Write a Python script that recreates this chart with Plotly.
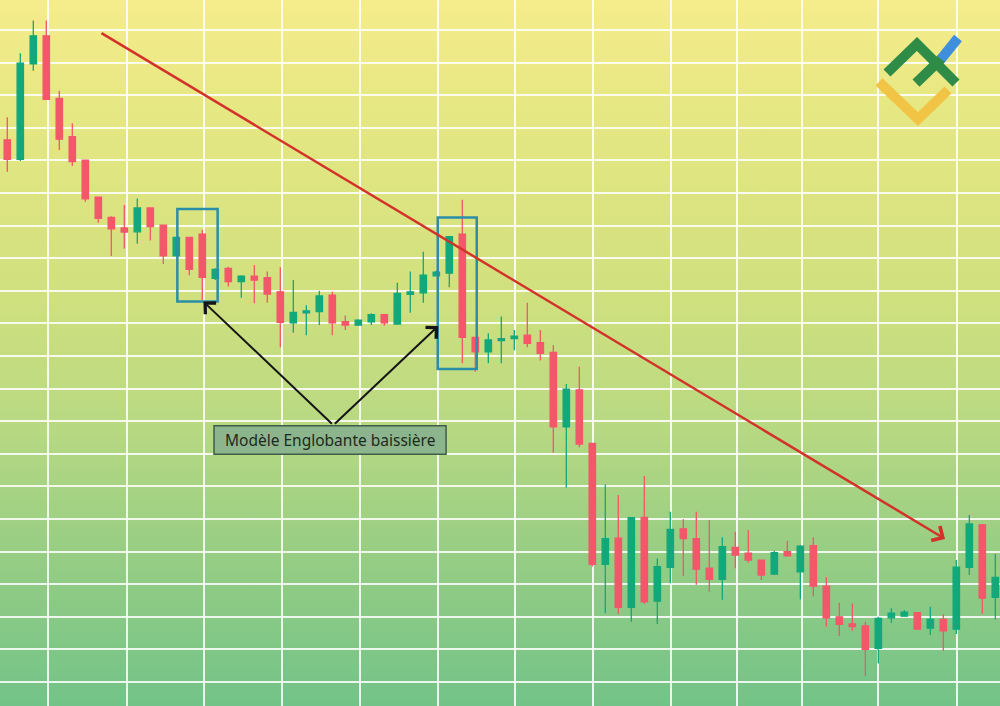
import base64
import plotly.graph_objects as go

# ---------------- data (price units, one candle per index) ----------------
candle_idx = list(range(77))
open_ = [166.3, 160.3, 189.6, 198.2, 179.0, 167.3, 160.1, 148.7, 142.5, 139.3,
         138.1, 145.4, 140.1, 130.7, 136.4, 137.4, 123.8, 126.9, 122.8, 124.5,
         124.0, 119.7, 110.2, 113.2, 113.6, 118.7, 110.5, 109.5, 110.5, 112.7,
         109.8, 118.9, 119.4, 124.6, 125.4, 137.4, 105.7, 101.3, 104.7, 105.3,
         106.4, 104.1, 101.1, 78.3, 89.6, 73.2, 36.1, 44.1, 22.9, 50.5,
         24.8, 35.2, 47.0, 44.0, 34.9, 31.5, 41.3, 39.5, 37.4, 33.1,
         40.0, 33.8, 41.8, 29.4, 20.0, 17.8, 17.2, 10.3, 19.7, 20.2,
         21.3, 16.5, 19.2, 16.2, 35.2, 48.2, 26.0]
high = [173.2, 192.9, 202.9, 202.9, 181.4, 171.4, 160.3, 148.9, 142.9, 146.3,
        148.3, 145.6, 140.3, 136.6, 136.6, 138.7, 126.9, 127.4, 124.8, 127.9,
        125.9, 127.2, 123.3, 115.6, 120.0, 119.7, 112.4, 111.3, 113.1, 112.9,
        122.5, 125.9, 132.0, 126.2, 136.8, 147.9, 105.9, 107.0, 112.1, 108.0,
        116.3, 108.0, 103.4, 91.4, 96.7, 73.4, 60.6, 57.4, 50.5, 63.2,
        37.9, 52.2, 49.9, 52.2, 49.7, 44.4, 46.1, 46.6, 37.6, 40.3,
        43.3, 42.0, 44.4, 32.1, 24.3, 24.1, 18.5, 20.0, 22.6, 22.1,
        21.5, 23.1, 20.8, 37.4, 51.2, 48.5, 39.3]
low = [156.5, 159.8, 187.5, 178.5, 163.2, 158.3, 147.3, 140.9, 130.7, 133.0,
       134.4, 135.4, 128.2, 130.5, 124.8, 117.2, 123.3, 121.3, 117.9, 116.2,
       116.3, 102.7, 107.1, 106.4, 109.5, 106.4, 108.0, 109.2, 109.5, 109.3,
       109.6, 113.3, 116.3, 124.5, 121.1, 97.8, 95.2, 97.8, 97.8, 101.8,
       102.7, 98.6, 70.3, 59.7, 72.0, 35.4, 21.1, 20.9, 18.5, 23.9,
       17.8, 30.3, 32.5, 29.8, 27.7, 25.2, 34.9, 36.6, 31.3, 32.8,
       38.4, 25.4, 26.2, 17.0, 14.1, 15.7, 1.8, 5.7, 18.2, 20.0,
       16.0, 14.4, 9.6, 14.7, 32.8, 20.9, 19.2]
close = [160.3, 189.8, 198.2, 178.7, 166.5, 159.6, 148.2, 142.2, 139.0, 138.0,
         145.4, 139.7, 130.7, 136.4, 126.6, 124.1, 126.6, 122.8, 124.5, 123.3,
         119.0, 110.3, 113.4, 113.8, 118.4, 110.2, 109.5, 111.0, 112.7, 110.2,
         119.2, 119.7, 124.8, 125.7, 136.6, 105.7, 101.3, 104.9, 105.3, 106.1,
         103.9, 100.8, 78.3, 89.8, 73.0, 36.1, 44.0, 22.9, 50.4, 24.6,
         35.4, 46.8, 44.0, 34.6, 31.5, 41.5, 38.9, 37.4, 32.8, 39.7,
         38.7, 41.7, 29.4, 19.7, 17.7, 17.0, 10.0, 19.5, 21.1, 21.4,
         16.2, 19.2, 15.7, 35.2, 48.5, 25.7, 32.1]

# grid positions (candle-index units / price units)
grid_x = [3.15, 9.18, 15.13, 21.11, 27.13, 33.15, 39.05, 45.08, 51.07,
          56.11, 61.11, 67.0, 73.03]
grid_y = [0, 10, 20, 30, 40, 50, 60, 70, 80, 90, 100, 110, 120, 130, 140,
          150, 160, 170, 180, 190, 200]

# annotations (data coordinates)
trend_start = (7.13, 199.3)
trend_end = (72.13, 43.9)
label_anchor = (25.08, 78.8)
arrow_tips = [(15.08, 116.7), (33.15, 109.2)]
pattern_boxes = [(13.08, 16.18, 116.7, 145.1), (33.11, 36.11, 96.0, 142.5)]
label_box = (15.9, 33.75, 69.9, 78.6)
label_text = "Modèle Englobante baissière"

# ---------------- styles ----------------
GREEN = "#12a87a"
RED = "#f4566a"
BOX_BLUE = "#2b8ea8"
TREND_RED = "#d3322a"
GRID = "rgba(255,255,255,0.85)"
X_RANGE = [-0.5615, 76.36]
Y_RANGE = [-7.36, 209.2]
W, H = 1000, 706

grad_stops = [(0.0, "#f6ec8c"), (0.14, "#e7e883"), (0.42, "#d0e07e"),
              (0.6, "#b8d982"), (0.79, "#96cd84"), (1.0, "#72c388")]
stops = "".join(f'<stop offset="{o}" stop-color="{c}"/>' for o, c in grad_stops)
svg = (f'<svg xmlns="http://www.w3.org/2000/svg" width="{W}" height="{H}" '
       f'viewBox="0 0 {W} {H}" preserveAspectRatio="none"><defs>'
       f'<linearGradient id="g" x1="0" y1="0" x2="0" y2="1">{stops}</linearGradient>'
       f'</defs><rect x="0" y="0" width="{W}" height="{H}" fill="url(#g)"/></svg>')
bg_src = "data:image/svg+xml;base64," + base64.b64encode(svg.encode()).decode()

fig = go.Figure(go.Candlestick(
    x=candle_idx, open=open_, high=high, low=low, close=close,
    increasing=dict(line=dict(color=GREEN, width=1.3), fillcolor=GREEN),
    decreasing=dict(line=dict(color=RED, width=1.3), fillcolor=RED),
    whiskerwidth=0, hoverinfo="skip",
))

shapes = []
for x0, x1, y0, y1 in pattern_boxes:
    shapes.append(dict(type="rect", xref="x", yref="y", x0=x0, x1=x1, y0=y0, y1=y1,
                       line=dict(color=BOX_BLUE, width=2.5), fillcolor="rgba(0,0,0,0)",
                       layer="above"))
shapes.append(dict(type="rect", xref="x", yref="y", x0=label_box[0], x1=label_box[1],
                   y0=label_box[2], y1=label_box[3],
                   line=dict(color="#3e5e48", width=1.5), fillcolor="#8db58d",
                   layer="above"))


def px(x, y):
    return x / W, 1 - y / H


def path(points):
    pts = [px(*p) for p in points]
    return "M" + " L".join(f"{a:.4f},{b:.4f}" for a, b in pts)


logo = [
    ([(879, 82), (918, 119), (948, 90)], "#f1c445"),
    ([(887, 73), (917, 44), (956, 83)], "#2f8c47"),
    ([(916, 83), (942, 58)], "#2f8c47"),
    ([(941, 59), (958, 38)], "#3f8fdc"),
]
for pts, col in logo:
    shapes.append(dict(type="path", xref="paper", yref="paper", path=path(pts),
                       line=dict(color=col, width=10), layer="above"))

annotations = [
    dict(x=trend_end[0], y=trend_end[1], ax=trend_start[0], ay=trend_start[1],
         xref="x", yref="y", axref="x", ayref="y", text="", showarrow=True,
         arrowhead=4, arrowsize=1.3, arrowwidth=2.5, arrowcolor=TREND_RED, standoff=0),
]
for tx, ty in arrow_tips:
    annotations.append(dict(x=tx, y=ty, ax=label_anchor[0], ay=label_anchor[1],
                            xref="x", yref="y", axref="x", ayref="y", text="",
                            showarrow=True, arrowhead=4, arrowsize=1.5, arrowwidth=2,
                            arrowcolor="#151515", standoff=0))
annotations.append(dict(x=(label_box[0] + label_box[1]) / 2,
                        y=(label_box[2] + label_box[3]) / 2,
                        xref="x", yref="y", text=label_text, showarrow=False,
                        font=dict(family="Noto Sans", size=15.5, color="#1c2a20")))

fig.update_layout(
    width=W, height=H, margin=dict(l=0, r=0, t=0, b=0, pad=0),
    paper_bgcolor="#c4dd84", plot_bgcolor="rgba(0,0,0,0)",
    showlegend=False, shapes=shapes, annotations=annotations,
    images=[dict(source=bg_src, xref="paper", yref="paper", x=0, y=1, sizex=1,
                 sizey=1, xanchor="left", yanchor="top", sizing="stretch",
                 layer="below")],
    xaxis=dict(range=X_RANGE, tickvals=grid_x, showticklabels=False, ticks="",
               showgrid=True, gridcolor=GRID, gridwidth=1.6, zeroline=False,
               showline=False, rangeslider=dict(visible=False), fixedrange=True),
    yaxis=dict(range=Y_RANGE, tickvals=grid_y, showticklabels=False, ticks="",
               showgrid=True, gridcolor=GRID, gridwidth=1.6, zeroline=False,
               showline=False, fixedrange=True),
)

fig.write_html(
    "out.html",
    config=dict(displayModeBar=False),
    post_script="document.body.style.margin='0';document.body.style.padding='0';"
                "document.body.style.overflow='hidden';",
)
